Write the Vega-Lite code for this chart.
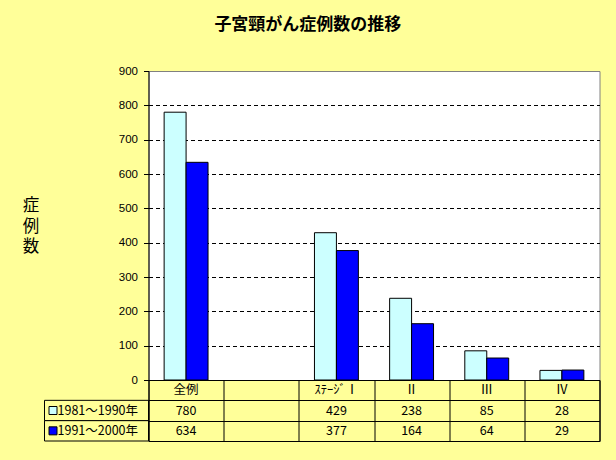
{
  "$schema": "https://vega.github.io/schema/vega-lite/v6.json",
  "background": "#FFFF99",
  "padding": {"left": 21.5, "top": 15, "right": 16.5, "bottom": 23},
  "title": {"text": "子宮頸がん症例数の推移", "fontSize": 17, "fontWeight": "bold", "font": "Noto Sans CJK JP", "anchor": "middle", "frame": "bounds", "offset": 31, "dx": -3, "color": "black"},
  "spacing": 0,
  "bounds": "flush",
  "columns": 2,
  "datasets": {
    "counts": [
      {"cat": "全例", "period": "1981～1990年", "value": 780},
      {"cat": "全例", "period": "1991～2000年", "value": 634},
      {"cat": "ｽﾃｰｼﾞⅠ", "period": "1981～1990年", "value": 429},
      {"cat": "ｽﾃｰｼﾞⅠ", "period": "1991～2000年", "value": 377},
      {"cat": "Ⅱ", "period": "1981～1990年", "value": 238},
      {"cat": "Ⅱ", "period": "1991～2000年", "value": 164},
      {"cat": "Ⅲ", "period": "1981～1990年", "value": 85},
      {"cat": "Ⅲ", "period": "1991～2000年", "value": 64},
      {"cat": "Ⅳ", "period": "1981～1990年", "value": 28},
      {"cat": "Ⅳ", "period": "1991～2000年", "value": 29}
    ]
  },
  "config": {"view": {"stroke": null}},
  "resolve": {"scale": {"x": "independent", "y": "independent", "color": "independent", "fill": "independent"}},
  "concat": [
    {
      "width": 104,
      "height": 309,
      "data": {"values": [{}]},
      "mark": {"type": "rect", "opacity": 0},
      "encoding": {}
    },
    {
      "width": 451,
      "height": 309,
      "view": {"fill": "white", "stroke": "#808080", "strokeWidth": 1},
      "data": {"name": "counts"},
      "mark": {"type": "bar", "stroke": "black", "strokeWidth": 1},
      "encoding": {
        "x": {"field": "cat", "type": "nominal", "sort": null,
              "scale": {"domain": ["全例", " ", "ｽﾃｰｼﾞⅠ", "Ⅱ", "Ⅲ", "Ⅳ"], "paddingInner": 0.416, "paddingOuter": 0.208},
              "axis": null},
        "xOffset": {"field": "period", "type": "nominal", "scale": {"paddingInner": 0, "paddingOuter": 0}},
        "y": {"field": "value", "type": "quantitative",
              "scale": {"domain": [0, 900], "nice": false},
              "axis": {
                "values": [0, 100, 200, 300, 400, 500, 600, 700, 800, 900],
                "grid": true, "gridColor": "black", "gridDash": [4, 3], "gridWidth": 1,
                "gridOpacity": {"condition": {"test": "datum.value == 900", "value": 0}, "value": 1},
                "domainColor": "black", "tickColor": "black", "tickSize": 5,
                "labelFont": "Liberation Sans", "labelFontSize": 11.5, "labelColor": "black", "labelPadding": 6,
                "title": ["症", "例", "数"], "titleAngle": 0, "titleFont": "Noto Sans CJK JP", "titleFontSize": 16.5,
                "titleFontWeight": "normal", "titleColor": "black", "titleLineHeight": 20.5,
                "titleX": -118, "titleY": 134.5, "titleAlign": "center", "titleBaseline": "middle"
              }},
        "color": {"field": "period", "type": "nominal",
                  "scale": {"domain": ["1981～1990年", "1991～2000年"], "range": ["#CCFFFF", "#0000FF"]},
                  "legend": null}
      }
    },
    {
      "width": 104,
      "height": 61,
      "data": {"name": "counts"},
      "transform": [{"aggregate": [{"op": "count", "as": "n"}], "groupby": ["period"]}],
      "encoding": {
        "y": {"field": "period", "type": "nominal",
              "scale": {"domain": ["header", "1981～1990年", "1991～2000年"], "paddingInner": 0, "paddingOuter": 0},
              "axis": null}
      },
      "layer": [
        {"mark": {"type": "rect", "fill": "#FFFF99", "stroke": "black", "strokeWidth": 1}},
        {
          "mark": {"type": "point", "shape": "square", "size": 64, "filled": true, "stroke": "black", "strokeWidth": 1, "opacity": 1},
          "encoding": {
            "x": {"datum": "sym", "type": "nominal",
                  "scale": {"type": "band", "domain": ["sym"], "range": [0, 17], "paddingInner": 0, "paddingOuter": 0},
                  "axis": null},
            "fill": {"field": "period", "type": "nominal",
                     "scale": {"domain": ["1981～1990年", "1991～2000年"], "range": ["#CCFFFF", "#0000FF"]},
                     "legend": null}
          }
        },
        {
          "mark": {"type": "text", "align": "left", "baseline": "middle", "font": "Noto Sans CJK JP", "fontSize": 12.5, "color": "black", "dx": -4},
          "encoding": {
            "x": {"datum": "sym", "type": "nominal", "bandPosition": 1},
            "text": {"field": "period"}
          }
        }
      ]
    },
    {
      "width": 451,
      "height": 61,
      "view": {"stroke": "black", "strokeWidth": 1},
      "encoding": {
        "x": {"field": "cat", "type": "nominal", "sort": null,
              "scale": {"domain": ["全例", " ", "ｽﾃｰｼﾞⅠ", "Ⅱ", "Ⅲ", "Ⅳ"], "paddingInner": 0, "paddingOuter": 0},
              "axis": {"grid": true, "gridColor": "black", "gridWidth": 1, "tickBand": "extent",
                       "labels": false, "ticks": false, "domain": false, "title": null}},
        "y": {"field": "period", "type": "nominal",
              "scale": {"domain": ["header", "1981～1990年", "1991～2000年"], "paddingInner": 0, "paddingOuter": 0},
              "axis": {"grid": true, "gridColor": "black", "gridWidth": 1, "tickBand": "extent",
                       "labels": false, "ticks": false, "domain": false, "title": null}}
      },
      "layer": [
        {
          "data": {"name": "counts"},
          "transform": [{"filter": "datum.period == '1981～1990年'"}],
          "mark": {"type": "text", "align": "center", "baseline": "middle", "font": "Noto Sans CJK JP", "fontSize": 12.5, "color": "black"},
          "encoding": {
            "y": {"datum": "header", "type": "nominal"},
            "text": {"field": "cat"}
          }
        },
        {
          "data": {"name": "counts"},
          "mark": {"type": "text", "align": "center", "baseline": "middle", "font": "Noto Sans CJK JP", "fontSize": 12.5, "color": "black"},
          "encoding": {
            "text": {"field": "value", "type": "quantitative"}
          }
        }
      ]
    }
  ]
}
